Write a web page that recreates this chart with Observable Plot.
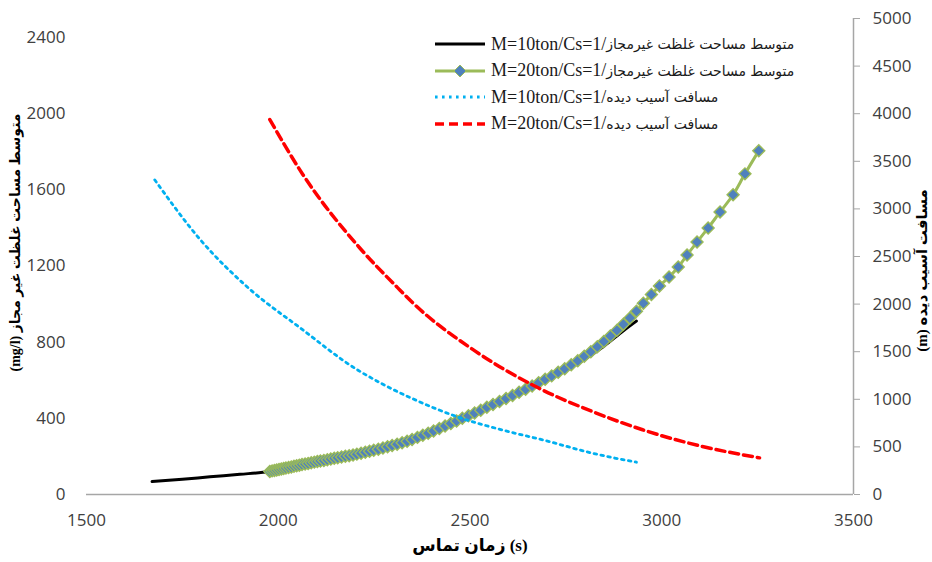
<!DOCTYPE html>
<html>
<head>
<meta charset="utf-8">
<script src="https://cdn.jsdelivr.net/npm/d3@7"></script>
<script src="https://cdn.jsdelivr.net/npm/@observablehq/plot@0.6"></script>
<style>
  body { margin: 0; background: #fff; }
  #wrap { position: relative; width: 932px; height: 562px; }
  #legend { position: absolute; left: 0; top: 0; width: 932px; height: 160px; pointer-events: none; }
  .lrow { position: absolute; left: 433px; height: 20px; display: flex; align-items: center; white-space: nowrap;
          font-family: "Liberation Serif", "DejaVu Sans", serif; font-size: 18px; color: #1a1a1a; }
  .lrow svg { margin-right: 6px; }
  .fa { font-family: "DejaVu Sans", sans-serif; font-size: 14px; }
</style>
</head>
<body>
<div id="wrap"><div id="legend"></div></div>
<script>
// ---- axis ticks ----
const timeTicks = [1500, 2000, 2500, 3000, 3500];
const concTicks = [0, 400, 800, 1200, 1600, 2000, 2400];
const distTicks = [0, 500, 1000, 1500, 2000, 2500, 3000, 3500, 4000, 4500, 5000];
const concMax = 2500;
const distMax = 5000;

// ---- series: M=10ton concentration area (left axis) ----
const m10ConcTime = [1671, 1750, 1822, 1900, 1978, 2082, 2200, 2342, 2480, 2600, 2700, 2783, 2850, 2900, 2934];
const m10Conc     = [68, 80, 93, 106, 121, 164, 208, 282, 397, 503, 598, 690, 780, 860, 911];

// ---- series: M=20ton concentration area (left axis, with markers) ----
const m20ConcTime = [1978, 1984, 1990, 1996, 2002, 2008, 2014, 2020, 2027, 2034, 2041, 2048, 2055, 2062, 2070, 2078,
  2086, 2094, 2102, 2110, 2119, 2128, 2137, 2146, 2155, 2165, 2175, 2185, 2195, 2205, 2216, 2227, 2238, 2249, 2261,
  2273, 2285, 2297, 2310, 2323, 2336, 2349, 2363, 2377, 2391, 2405, 2420, 2435, 2450, 2465, 2480, 2496, 2512, 2528,
  2544, 2560, 2577, 2594, 2611, 2628, 2645, 2662, 2679, 2696, 2713, 2730, 2747, 2764, 2781, 2798, 2815, 2832, 2849,
  2866, 2883, 2900, 2917, 2934, 2952, 2973, 2994, 3019, 3043, 3066, 3092, 3121, 3152, 3186, 3217, 3253];
const m20Conc = [121, 124, 126, 129, 131, 134, 136, 139, 142, 145, 148, 151, 154, 157, 160, 163,
  167, 170, 173, 176, 179, 183, 186, 190, 193, 197, 201, 204, 208, 212, 217, 222, 227, 232, 238,
  244, 251, 257, 264, 272, 280, 289, 300, 311, 322, 334, 347, 360, 373, 386, 400, 414, 428, 443,
  458, 473, 488, 504, 520, 537, 553, 570, 587, 605, 623, 642, 661, 682, 703, 726, 750, 776, 803,
  832, 862, 894, 927, 962, 1005, 1050, 1095, 1142, 1195, 1258, 1326, 1400, 1484, 1574, 1684, 1805];

// ---- series: M=10ton damaged distance (right axis) ----
const m10DistTime = [1678, 1796, 1926, 2056, 2203, 2264, 2350, 2471, 2580, 2697, 2820, 2934];
const m10Dist     = [3305, 2680, 2156, 1754, 1318, 1177, 1007, 810, 682, 566, 433, 339];

// ---- series: M=20ton damaged distance (right axis) ----
const m20DistTime = [1978, 2064, 2212, 2311, 2350, 2506, 2679, 2820, 2950, 3100, 3255];
const m20Dist     = [3938, 3362, 2592, 2173, 2016, 1527, 1118, 870, 680, 510, 385];

// ---- labels ----
const xTitle = "زمان تماس (s)";
const yLeftTitle = "(mg/l) متوسط مساحت غلظت غیر مجاز";
const yRightTitle = "(m) مسافت آسیب دیده";
const legendLatin = ["M=10ton/Cs=1/", "M=20ton/Cs=1/", "M=10ton/Cs=1/", "M=20ton/Cs=1/"];
const legendFa = ["متوسط مساحت غلظت غیرمجاز", "متوسط مساحت غلظت غیرمجاز", "مسافت آسیب دیده", "مسافت آسیب دیده"];

// ---- build tables ----
const ratio = concMax / distMax;
const toRows = (ts, vs) => ts.map((t, i) => ({t, v: vs[i]}));
const s1 = toRows(m10ConcTime, m10Conc);
const s2 = toRows(m20ConcTime, m20Conc);
const s3 = toRows(m10DistTime, m10Dist).map(d => ({t: d.t, v: d.v * ratio}));
const s4 = toRows(m20DistTime, m20Dist).map(d => ({t: d.t, v: d.v * ratio}));

const axisGray = "#a6a6a6";
const titleFont = "'Liberation Serif', 'DejaVu Sans', serif";

const chart = Plot.plot({
  width: 932,
  height: 562,
  marginLeft: 86,
  marginRight: 79,
  marginTop: 18,
  marginBottom: 68,
  style: {fontFamily: "'Open Sans', sans-serif", fontSize: "17px", color: "#404040", background: "#fff"},
  x: {domain: [1500, 3500]},
  y: {domain: [0, concMax]},
  marks: [
    Plot.ruleY([0], {stroke: axisGray, strokeWidth: 1.5}),
    Plot.ruleX([3500], {stroke: axisGray, strokeWidth: 1.5}),
    Plot.axisX({ticks: timeTicks, tickFormat: d => String(d), tickSize: 0, tickPadding: 19, label: null}),
    Plot.axisY({ticks: concTicks, tickFormat: d => String(d), tickSize: 0, tickPadding: 21, label: null}),
    Plot.axisY({anchor: "right", ticks: distTicks.map(d => d * ratio), tickFormat: d => String(Math.round(d / ratio)),
      tickSize: 6, tickPadding: 13, stroke: axisGray, fill: "#404040", label: null}),
    Plot.line(s1, {x: "t", y: "v", stroke: "#000", strokeWidth: 3, curve: "monotone-x"}),
    Plot.line(s2, {x: "t", y: "v", stroke: "#9bbb59", strokeWidth: 3, curve: "monotone-x"}),
    Plot.dot(s2, {x: "t", y: "v", symbol: "diamond2", r: 5.4, fill: "#4f81bd", stroke: "#9bbb59", strokeWidth: 1.4}),
    Plot.line(s3, {x: "t", y: "v", stroke: "#00b0f0", strokeWidth: 2.8, strokeDasharray: "2.6 4.4", curve: "monotone-x"}),
    Plot.line(s4, {x: "t", y: "v", stroke: "#ff0000", strokeWidth: 3.5, strokeDasharray: "9 5", curve: "monotone-x"}),
    Plot.text([xTitle], {frameAnchor: "bottom", dy: 56, fontFamily: titleFont, fontWeight: "bold", fontSize: 17, fill: "#000"}),
    Plot.text([yLeftTitle], {frameAnchor: "left", textAnchor: "middle", rotate: -90, dx: -71, dy: -14, fontFamily: titleFont, fontWeight: "bold", fontSize: 14, fill: "#000"}),
    Plot.text([yRightTitle], {frameAnchor: "right", textAnchor: "middle", rotate: -90, dx: 69, dy: 14, fontFamily: titleFont, fontWeight: "bold", fontSize: 15, fill: "#000"})
  ]
});
document.getElementById("wrap").prepend(chart);

// ---- legend (overlay) ----
const legendStyles = [
  {stroke: "#000", width: 3, dash: null, marker: false},
  {stroke: "#9bbb59", width: 3, dash: null, marker: true},
  {stroke: "#00b0f0", width: 2.8, dash: "2.6 4.4", marker: false},
  {stroke: "#ff0000", width: 3.5, dash: "9 5", marker: false}
];
const legend = document.getElementById("legend");
legendStyles.forEach((s, i) => {
  const row = document.createElement("div");
  row.className = "lrow";
  row.style.top = (34 + i * 26.5) + "px";
  const ns = "http://www.w3.org/2000/svg";
  const svg = document.createElementNS(ns, "svg");
  svg.setAttribute("width", 52); svg.setAttribute("height", 14);
  const ln = document.createElementNS(ns, "line");
  ln.setAttribute("x1", 2); ln.setAttribute("x2", 52); ln.setAttribute("y1", 7); ln.setAttribute("y2", 7);
  ln.setAttribute("stroke", s.stroke); ln.setAttribute("stroke-width", s.width);
  if (s.dash) ln.setAttribute("stroke-dasharray", s.dash);
  svg.appendChild(ln);
  if (s.marker) {
    const p = document.createElementNS(ns, "path");
    p.setAttribute("d", "M27,1 L33,7 L27,13 L21,7 Z");
    p.setAttribute("fill", "#4f81bd"); p.setAttribute("stroke", "#9bbb59");
    svg.appendChild(p);
  }
  row.appendChild(svg);
  const span = document.createElement("span");
  span.textContent = legendLatin[i];
  const fa = document.createElement("span");
  fa.className = "fa";
  fa.textContent = legendFa[i];
  row.appendChild(span);
  row.appendChild(fa);
  legend.appendChild(row);
});
</script>
</body>
</html>
